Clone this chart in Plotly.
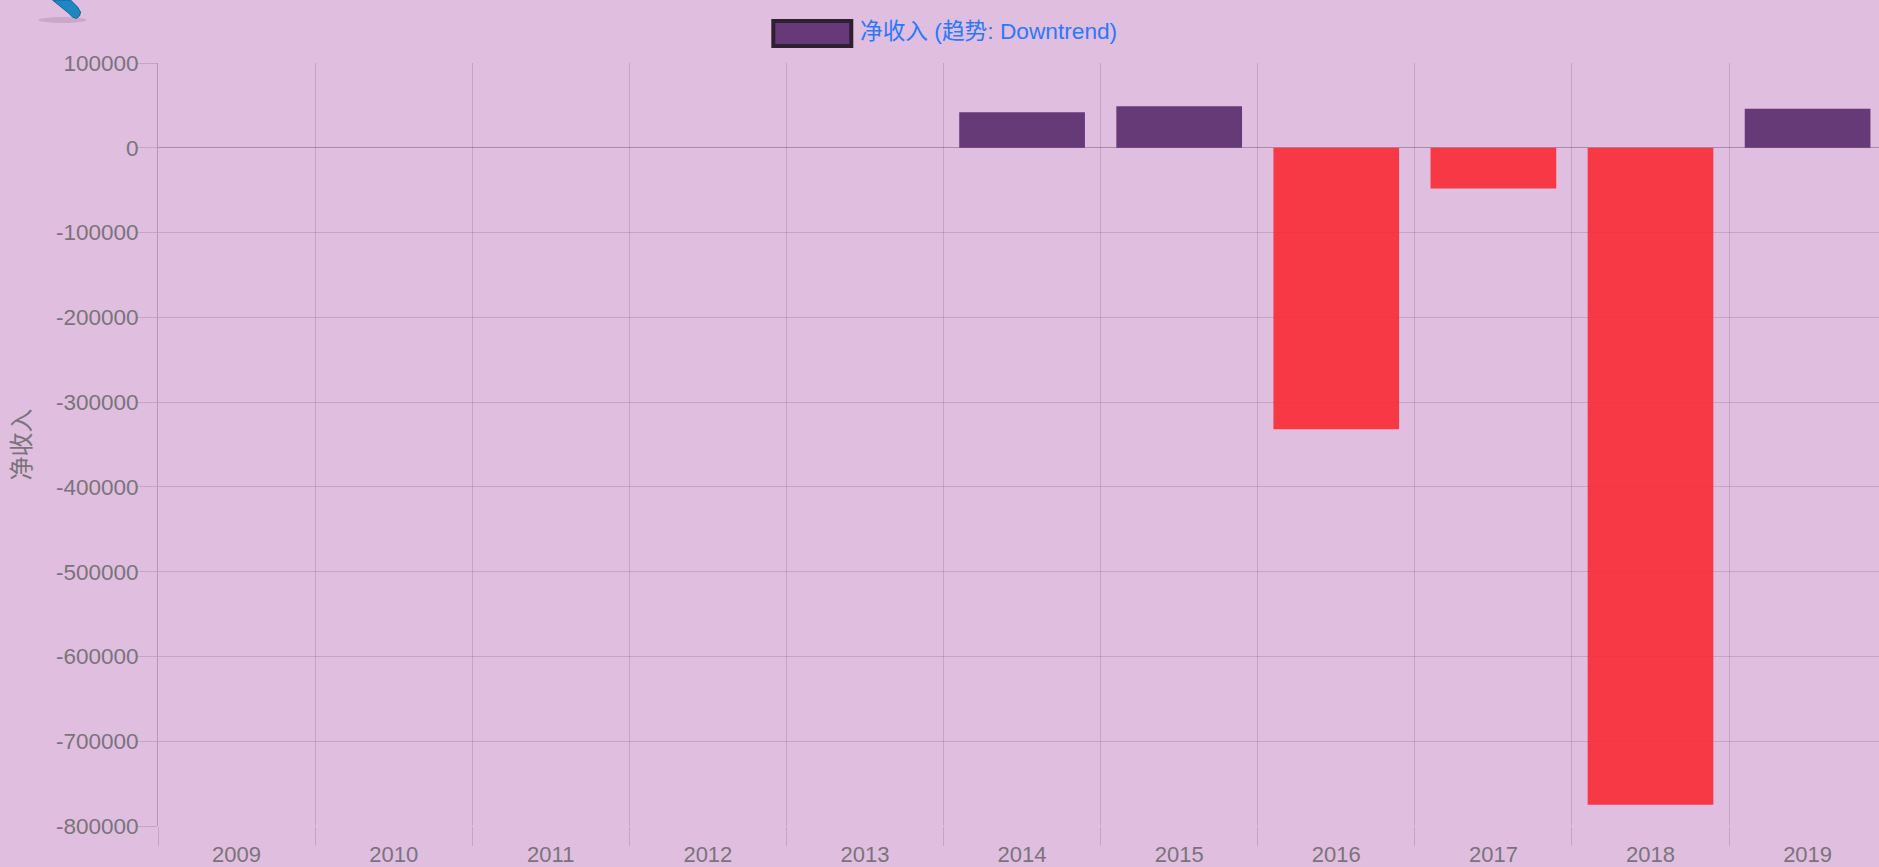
import plotly.graph_objects as go

# Data
years = ["2009", "2010", "2011", "2012", "2013", "2014", "2015", "2016", "2017", "2018", "2019"]
net_income = [0, 0, 0, 0, 0, 42000, 49000, -332000, -48000, -775000, 46000]
y_ticks = [100000, 0, -100000, -200000, -300000, -400000, -500000, -600000, -700000, -800000]
series_name = "净收入"
legend_text = "净收入 (趋势: Downtrend)"

W, H = 1879, 867
L, R, T, B = 157.5, 0, 63, 41
FONT = "Liberation Sans, Noto Sans CJK SC, sans-serif"
BG = "#E0BEE0"
POS = "rgba(88,43,108,0.9)"
NEG = "rgba(250,41,52,0.9)"
GRID = "rgba(0,0,0,0.12)"
TICKTXT = "#7a747a"

def px(x):
    return (x - L) / (W - L - R)

def py(y):
    return 1 - (y - T) / (H - T - B)

colors = [POS if v >= 0 else NEG for v in net_income]

fig = go.Figure(go.Bar(
    x=years, y=net_income, name=series_name, width=0.8,
    marker=dict(color=colors, line=dict(width=0)),
    showlegend=False,
))

pencil = [(52, 0), (68, 13), (72, 17), (76, 18.5), (79, 16), (80, 12), (77, 7), (70, 0)]
path = "M " + " L ".join(f"{px(a):.5f},{py(b):.5f}" for a, b in pencil) + " Z"

fig.update_layout(
    width=W, height=H, autosize=False,
    paper_bgcolor=BG, plot_bgcolor=BG,
    margin=dict(l=L, r=R, t=T, b=B, pad=0),
    font=dict(family=FONT, size=20, color=TICKTXT),
    bargap=0.2,
    xaxis=dict(
        automargin=False,
        type="category", categoryorder="array", categoryarray=years,
        range=[-0.5, -0.5 + (W - L) / 157.15],
        tickson="boundaries", ticks="outside", ticklen=19, tickwidth=1, tickcolor=GRID,
        showgrid=True, gridcolor=GRID, gridwidth=1,
        showline=False, zeroline=False,
        ticklabelstandoff=13,
        tickfont=dict(size=22, color=TICKTXT, family=FONT),
    ),
    yaxis=dict(
        automargin=False,
        range=[-800000, 100000], tickmode="array", tickvals=y_ticks,
        ticktext=[str(v) for v in y_ticks],
        ticks="outside", ticklen=20, tickwidth=1, tickcolor=GRID,
        showgrid=True, gridcolor=GRID, gridwidth=1,
        showline=True, linecolor="rgba(0,0,0,0.2)", linewidth=1,
        zeroline=True, zerolinecolor="rgba(0,0,0,0.25)", zerolinewidth=1,
        ticklabelstandoff=-6,
        tickfont=dict(size=22.5, color=TICKTXT, family=FONT),
        title=dict(text=series_name, font=dict(size=24, color=TICKTXT, family=FONT), standoff=18),
    ),
    shapes=[
        dict(type="rect", xref="paper", yref="paper", x0=px(773), x1=px(851), y0=py(46), y1=py(21),
             fillcolor="#663A78", line=dict(color="#2f2030", width=4), layer="above"),
        dict(type="circle", xref="paper", yref="paper", x0=px(38), x1=px(86), y0=py(23), y1=py(17),
             fillcolor="rgba(120,80,120,0.2)", line=dict(width=0), layer="above"),
        dict(type="path", xref="paper", yref="paper", path=path,
             fillcolor="#1f86c4", line=dict(color="#17618f", width=1), layer="above"),
    ],
    annotations=[
        dict(text=legend_text, xref="paper", yref="paper", x=px(858), y=py(31),
             xanchor="left", yanchor="middle", showarrow=False,
             font=dict(size=22.7, color="#2a78ff", family=FONT)),
    ],
)

fig.write_html(
    "out.html",
    config={"displayModeBar": False},
    post_script="document.body.style.margin='0';document.body.style.overflow='hidden';",
)
